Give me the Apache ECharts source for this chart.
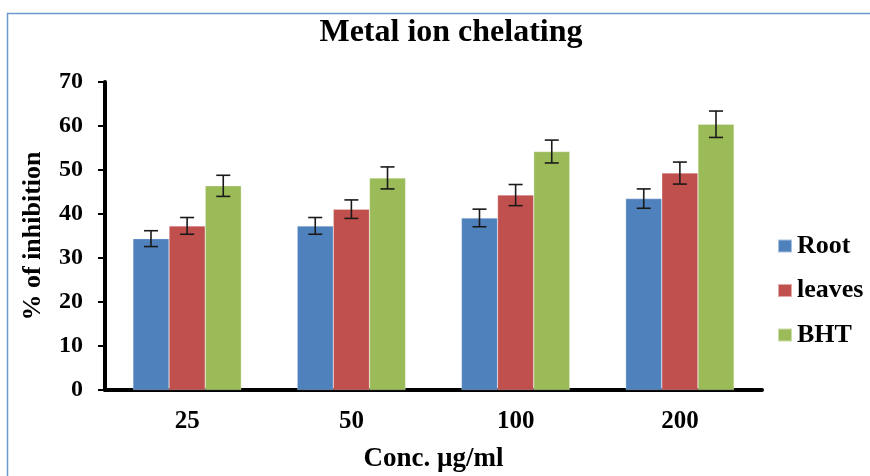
<!DOCTYPE html>
<html>
<head>
<meta charset="utf-8">
<script src="https://cdn.jsdelivr.net/npm/echarts@6/dist/echarts.min.js"></script>
<style>html,body{margin:0;padding:0;background:#fff;}#c{width:870px;height:476px;}</style>
</head>
<body>
<div id="c"></div>
<script>
var categories = ['25', '50', '100', '200'];
var seriesNames = ['Root', 'leaves', 'BHT'];
var rootValues = [34.4, 37.3, 39.1, 43.5];
var leavesValues = [37.3, 41.1, 44.3, 49.3];
var bhtValues = [46.4, 48.2, 54.2, 60.4];
var rootErr = [1.8, 1.9, 2.0, 2.2];
var leavesErr = [1.9, 2.1, 2.4, 2.5];
var bhtErr = [2.4, 2.5, 2.6, 3.0];
var yTicks = [0, 10, 20, 30, 40, 50, 60, 70];

var colors = ['#4F81BD', '#C0504D', '#9BBB59'];
var values = [rootValues, leavesValues, bhtValues];
var errs = [rootErr, leavesErr, bhtErr];
var font = '"Liberation Serif", "Times New Roman", serif';
var gapFrac = 0.34;

var chart = echarts.init(document.getElementById('c'));

var series = [];
values.forEach(function (vals, si) {
  series.push({
    name: seriesNames[si],
    type: 'bar',
    data: vals,
    barGap: '0%',
    barCategoryGap: '34%',
    itemStyle: { color: colors[si], borderColor: 'rgba(255,255,255,0.5)', borderWidth: 0.5 },
    z: 2
  });
});
values.forEach(function (vals, si) {
  var data = vals.map(function (v, i) { return [i, v - errs[si][i], v + errs[si][i]]; });
  series.push({
    type: 'custom',
    name: seriesNames[si] + ' error',
    data: data,
    z: 5,
    silent: true,
    renderItem: function (params, api) {
      var idx = api.value(0);
      var lo = api.coord([idx, api.value(1)]);
      var hi = api.coord([idx, api.value(2)]);
      var catW = api.size([1, 0])[0];
      var barW = catW * (1 - gapFrac) / 3;
      var x = lo[0] + (si - 1) * barW;
      var half = 7;
      var st = { stroke: '#1a1a1a', lineWidth: 1.6 };
      return {
        type: 'group',
        children: [
          { type: 'line', shape: { x1: x, y1: hi[1], x2: x, y2: lo[1] }, style: st },
          { type: 'line', shape: { x1: x - half, y1: hi[1], x2: x + half, y2: hi[1] }, style: st },
          { type: 'line', shape: { x1: x - half, y1: lo[1], x2: x + half, y2: lo[1] }, style: st }
        ]
      };
    }
  });
});

chart.setOption({
  animation: false,
  backgroundColor: '#fff',
  title: {
    text: 'Metal ion chelating',
    left: 446, textAlign: 'center', top: 12,
    textStyle: { fontFamily: font, fontSize: 32, fontWeight: 'bold', color: '#000' }
  },
  graphic: [{
    type: 'rect', left: 5, top: 11,
    shape: { width: 900, height: 500 },
    style: { fill: 'none', stroke: '#6b98cf', lineWidth: 1.5 },
    z: -1, silent: true
  }],
  legend: {
    data: seriesNames,
    orient: 'vertical',
    left: 772, top: 228,
    itemWidth: 14, itemHeight: 13,
    itemGap: 18.5,
    icon: 'rect',
    textStyle: { fontFamily: font, fontSize: 26, fontWeight: 'bold', color: '#000' }
  },
  grid: { left: 105, right: 108, top: 82, bottom: 86, containLabel: false, outerBoundsMode: 'none' },
  xAxis: {
    type: 'category',
    data: categories,
    name: 'Conc. µg/ml',
    nameLocation: 'middle',
    nameGap: 56,
    nameTextStyle: { fontFamily: font, fontSize: 27, fontWeight: 'bold', color: '#000' },
    axisLine: { lineStyle: { color: '#000', width: 4 } },
    axisTick: { show: false },
    axisLabel: { fontFamily: font, fontSize: 25, fontWeight: 'bold', color: '#000', margin: 19 }
  },
  yAxis: {
    type: 'value',
    min: yTicks[0], max: yTicks[yTicks.length - 1], interval: 10,
    name: '% of inhibition',
    nameLocation: 'middle',
    nameGap: 59,
    nameRotate: 90,
    nameTextStyle: { fontFamily: font, fontSize: 26, fontWeight: 'bold', color: '#000' },
    axisLine: { show: true, lineStyle: { color: '#000', width: 4 } },
    axisTick: { show: true, length: 7, lineStyle: { color: '#000', width: 2 } },
    splitLine: { show: false },
    axisLabel: { fontFamily: font, fontSize: 24, fontWeight: 'bold', color: '#000', margin: 22 }
  },
  series: series
});
</script>
</body>
</html>
